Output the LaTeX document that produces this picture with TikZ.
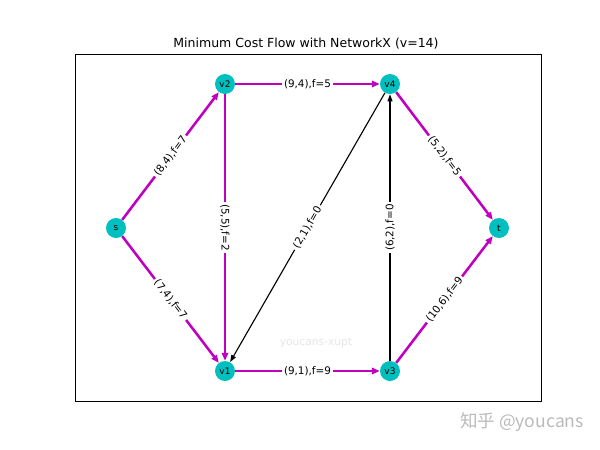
\documentclass[tikz,border=0pt]{standalone}
\usepackage{fontspec}
\setmainfont{DejaVu Sans}
\newfontfamily\cjkfont{Noto Sans CJK SC}
\usepackage{tikz}
\usetikzlibrary{positioning, arrows.meta}
\definecolor{nodecyan}{rgb}{0,0.75,0.75}
\definecolor{flowmag}{rgb}{0.75,0,0.75}

\begin{document}
\begin{tikzpicture}[on grid,
    vertex/.style={circle,fill=nodecyan,minimum size=0.5cm,inner sep=0pt,font=\fontsize{6.4}{7}\selectfont},
    flow/.style={flowmag,line width=1.8pt,-{Triangle[length=5.5pt,width=4.5pt]}},
    noflow/.style={black,line width=0.8pt,-{Triangle[length=5pt,width=3.5pt]}},
    elabel/.style={fill=white,text=black,inner sep=1.5pt,font=\fontsize{7.4}{8}\selectfont}]

    \useasboundingbox (0,0) rectangle (15,-11.25);
    \draw[line width=0.6pt] (1.875,-1.35) rectangle (13.525,-10.025);
    \node (title) at (7.65,-1.1) {\fontsize{8.9}{10}\selectfont Minimum Cost Flow with NetworkX (v=14)};

    \node[vertex] (s) at (2.9,-5.7) {s};
    \node[vertex] (v2) [above right=3.6cm and 2.725cm of s] {v2};
    \node[vertex] (v4) [right=4.125cm of v2] {v4};
    \node[vertex] (t) [below right=3.6cm and 2.725cm of v4] {t};
    \node[vertex] (v1) [below=7.175cm of v2] {v1};
    \node[vertex] (v3) [right=4.125cm of v1] {v3};

    \path[flow]
    (s) edge node[elabel,sloped] {(8,4),f=7} (v2)
        edge node[elabel,sloped] {(7,4),f=7} (v1)
    (v2) edge node[elabel] {(9,4),f=5} (v4)
         edge node[elabel,sloped] {(5,5),f=2} (v1)
    (v1) edge node[elabel] {(9,1),f=9} (v3)
    (v4) edge node[elabel,sloped] {(5,2),f=5} (t)
    (v3) edge node[elabel,sloped] {(10,6),f=9} (t);

    \path[noflow]
    (v4) edge node[elabel,sloped] {(2,1),f=0} (v1)
    (v3) edge node[elabel,sloped] {(6,2),f=0} (v4);

    \node[text=black!10,font=\fontsize{7.6}{8}\selectfont] (mark) at (7.9,-8.575) {youcans-xupt};
    \node[text=black!27,font=\cjkfont\fontsize{12.5}{14}\selectfont] (site) at (13.05,-10.55) {知乎 @youcans};
\end{tikzpicture}
\end{document}
